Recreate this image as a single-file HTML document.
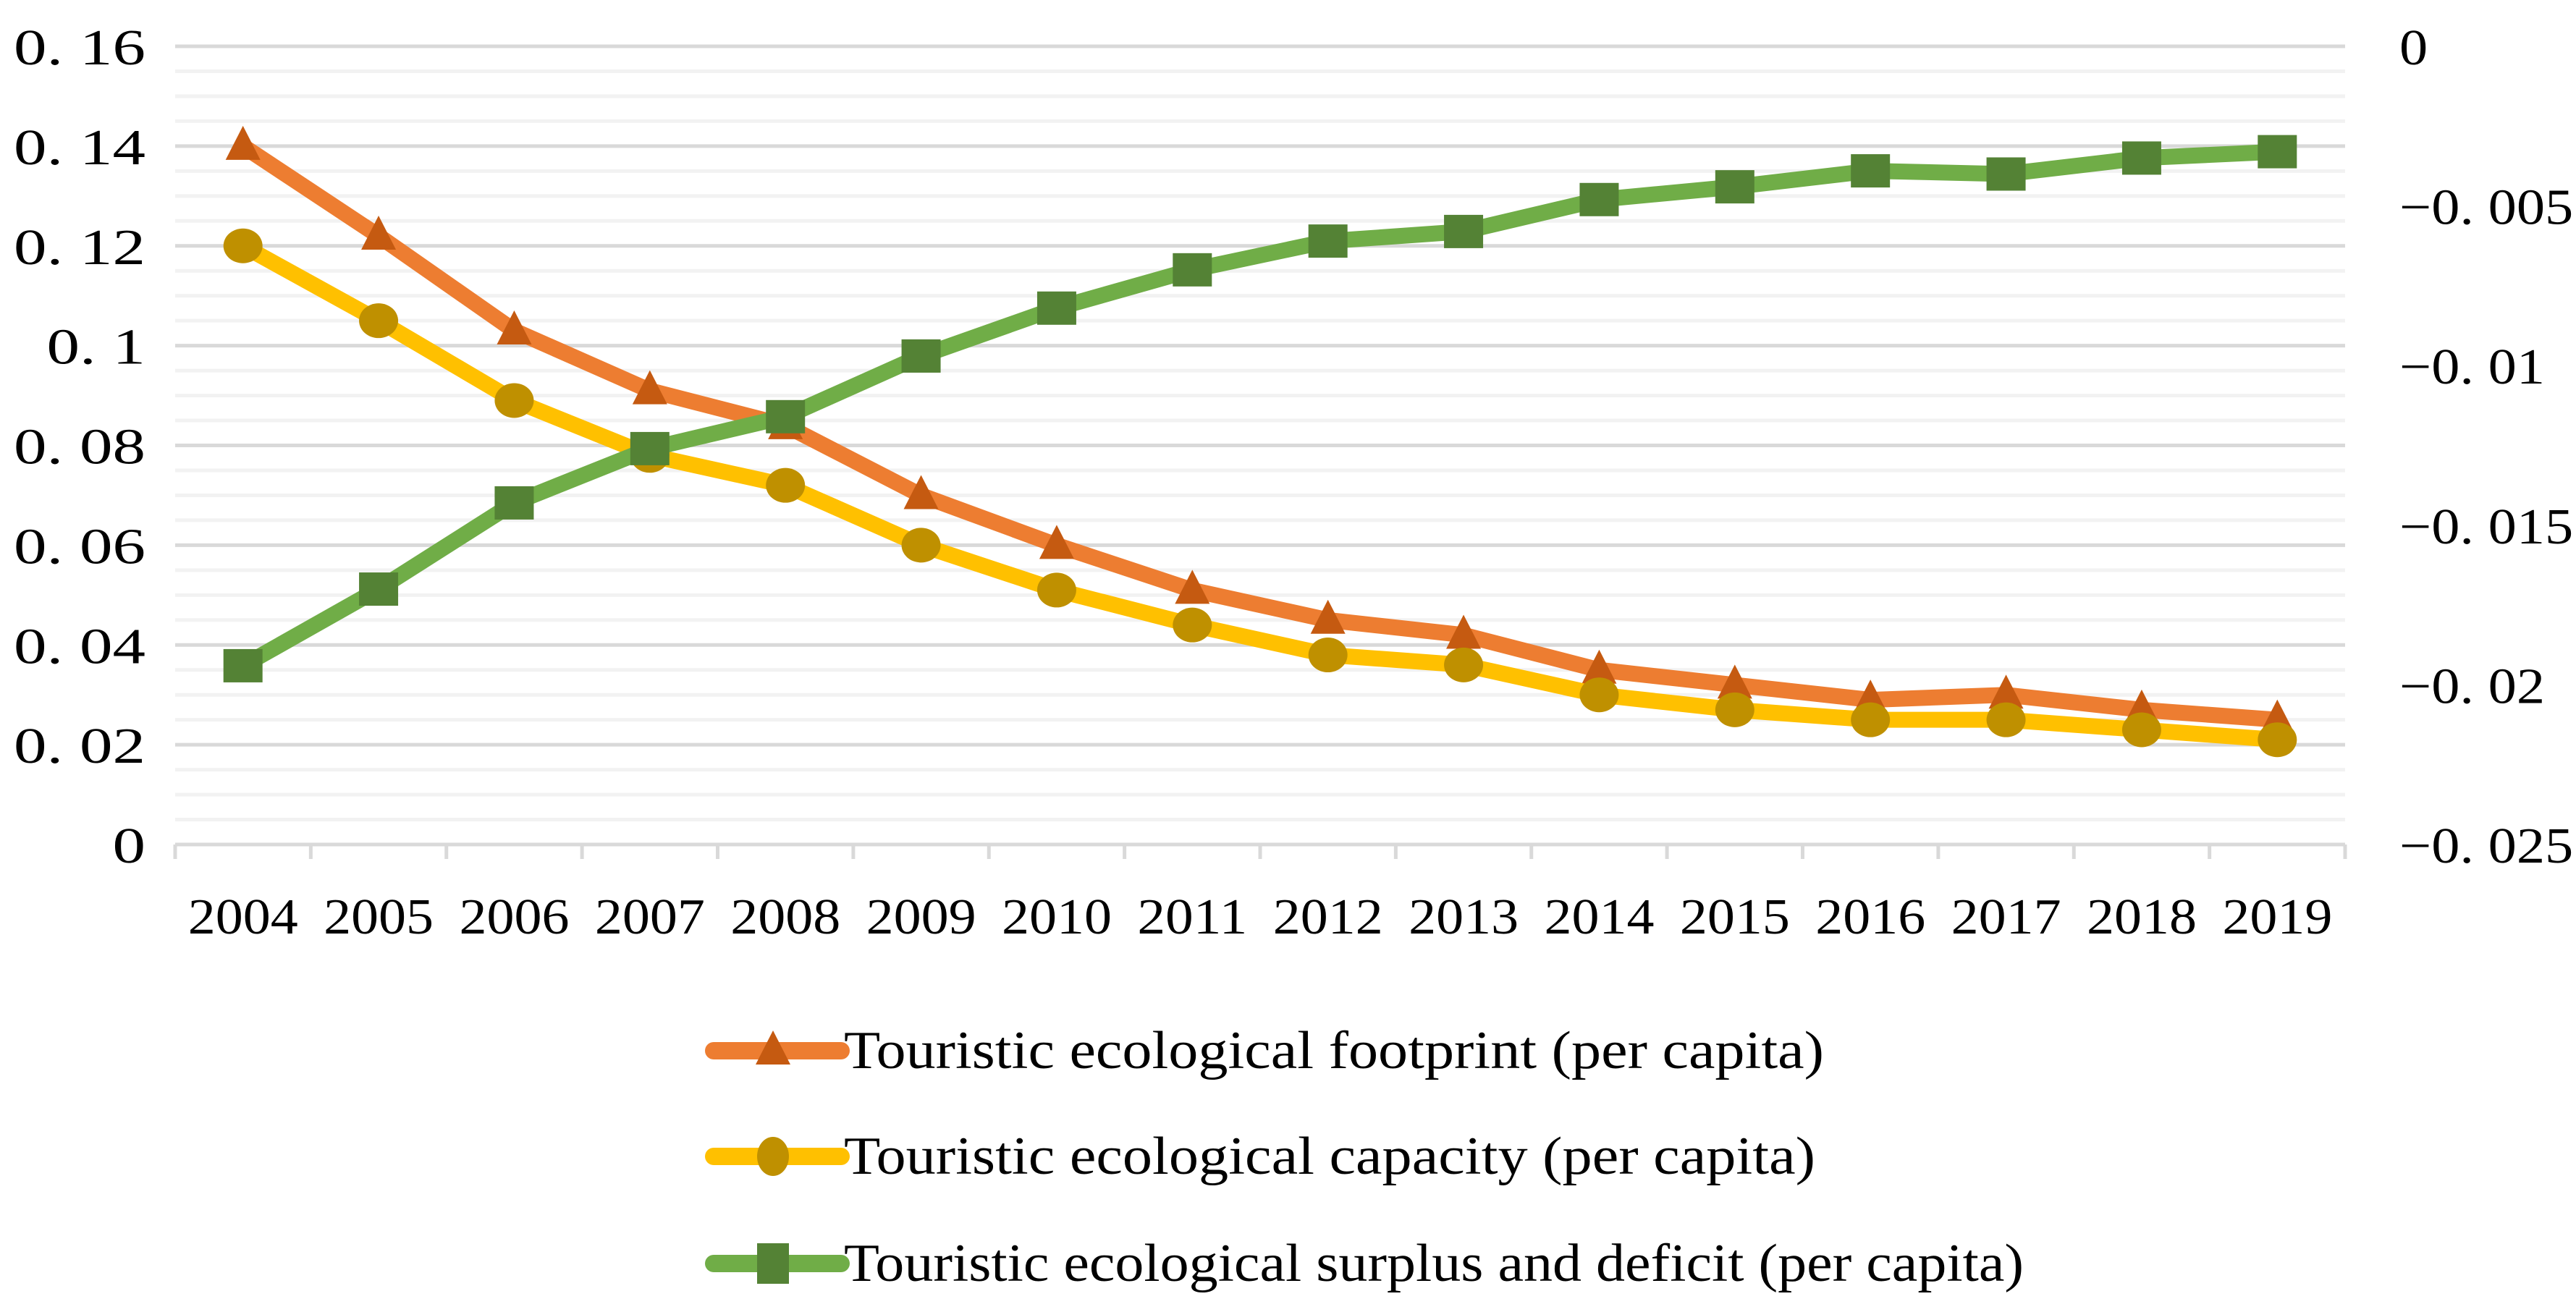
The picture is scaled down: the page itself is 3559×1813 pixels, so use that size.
<!DOCTYPE html>
<html><head><meta charset="utf-8"><style>
html,body{margin:0;padding:0;background:#fff;}
svg{display:block;}
text{font-family:"Liberation Serif",serif;fill:#000;}
</style></head><body>
<svg id="chart" width="3559" height="1813" viewBox="0 0 3559 1813" xmlns="http://www.w3.org/2000/svg">
<g id="grid"></g>
<g id="axes"></g>
<g id="series"></g>
<g id="legend"></g>
</svg>
<script>
const years = ["2004","2005","2006","2007","2008","2009","2010","2011","2012","2013","2014","2015","2016","2017","2018","2019"];
const footprint = [0.140,0.122,0.103,0.091,0.084,0.070,0.060,0.051,0.045,0.042,0.035,0.032,0.029,0.030,0.027,0.025];
const capacity = [0.120,0.105,0.089,0.078,0.072,0.060,0.051,0.044,0.038,0.036,0.030,0.027,0.025,0.025,0.023,0.021];
const surplus = [-0.0194,-0.0170,-0.0143,-0.0126,-0.0116,-0.0097,-0.0082,-0.0070,-0.0061,-0.0058,-0.0048,-0.0044,-0.0039,-0.0040,-0.0035,-0.0033];
const leftTicks = ["0","0. 02","0. 04","0. 06","0. 08","0. 1","0. 12","0. 14","0. 16"];
const rightTicks = ["0","\u22120. 005","\u22120. 01","\u22120. 015","\u22120. 02","\u22120. 025"];
const legendLabels = ["Touristic ecological footprint (per capita)","Touristic ecological capacity (per capita)","Touristic ecological surplus and deficit (per capita)"];

const NS="http://www.w3.org/2000/svg";
const X0=242, X1=3240, Y0=1167, Y1=64;
const bw=(X1-X0)/years.length;
const xs=i=>X0+bw*(i+0.5);
const yL=v=>Y0-(v/0.16)*(Y0-Y1);
const yR=v=>Y1+(-v/0.025)*(Y0-Y1);
function mk(tag,attrs,parent){const e=document.createElementNS(NS,tag);for(const k in attrs)e.setAttribute(k,attrs[k]);parent.appendChild(e);return e;}
function widen(t,k){const w=t.getComputedTextLength();if(w>0){t.setAttribute('textLength',w*k);t.setAttribute('lengthAdjust','spacingAndGlyphs');}}
const grid=document.getElementById('grid'),axes=document.getElementById('axes'),series=document.getElementById('series'),legend=document.getElementById('legend');

for(let k=1;k<32;k++){ if(k%4===0) continue;
  const y=Y0-k*(Y0-Y1)/32;
  const l=mk('line',{x1:X0,x2:X1,y1:y,y2:y,stroke:'#f2f2f2','stroke-width':5},grid);
  
  
}
for(let k=1;k<=8;k++){
  const y=Y0-k*(Y0-Y1)/8;
  const l=mk('line',{x1:X0,x2:X1,y1:y,y2:y,stroke:'#d9d9d9','stroke-width':5},grid);
  
  
}
const ax=mk('line',{x1:X0,x2:X1,y1:Y0,y2:Y0,stroke:'#d9d9d9','stroke-width':5},axes);


for(let i=0;i<=years.length;i++){
  const x=X0+i*bw;
  const t=mk('line',{x1:x,x2:x,y1:Y0,y2:Y0+20,stroke:'#d9d9d9','stroke-width':5},axes);
  
  
}
years.forEach((yv,i)=>{
  const t=mk('text',{x:xs(i),y:1290,'text-anchor':'middle','font-size':70,textLength:152,lengthAdjust:'spacingAndGlyphs'},axes);
  t.textContent=yv;
  
  
});
leftTicks.forEach((s,i)=>{
  const y=Y0-i*(Y0-Y1)/8;
  const t=mk('text',{x:201,y:y+25,'text-anchor':'end','font-size':70},axes);
  t.textContent=s;
  
  
  widen(t,1.3);
});
rightTicks.forEach((s,i)=>{
  const y=Y1+i*(Y0-Y1)/5;
  const t=mk('text',{x:3315,y:y+25,'text-anchor':'start','font-size':70},axes);
  t.textContent=s;
  
  
  widen(t,1.12);
});

function tri(cx,cy,g,fill){return mk('polygon',{points:`${cx},${cy-28} ${cx-24},${cy+19} ${cx+24},${cy+19}`,fill:fill},g);}
function drawSeries(vals,yf,line,mcol,shape,name){
  const g=mk('g',{},series);
  
  
  const pts=vals.map((v,i)=>xs(i)+','+yf(v)).join(' ');
  const pl=mk('polyline',{points:pts,fill:'none',stroke:line,'stroke-width':22,'stroke-linejoin':'round'},g);
  
  
  vals.forEach((v,i)=>{
    const cx=xs(i),cy=yf(v);let m;
    if(shape==='tri') m=tri(cx,cy,g,mcol);
    else if(shape==='circ') m=mk('ellipse',{cx:cx,cy:cy,rx:27,ry:24,fill:mcol},g);
    else m=mk('rect',{x:cx-27,y:cy-23,width:54,height:46,fill:mcol},g);
    
    
  });
}
drawSeries(footprint,yL,'#ED7D31','#C55A11','tri','footprint-series');
drawSeries(capacity,yL,'#FFC000','#BF9000','circ','capacity-series');
drawSeries(surplus,yR,'#70AD47','#548235','sq','surplus-series');

const lcol=[['#ED7D31','#C55A11','tri'],['#FFC000','#BF9000','circ'],['#70AD47','#548235','sq']];
const ly=[1452,1598,1746], lw=[1354,1342,1630];
legendLabels.forEach((s,i)=>{
  const g=mk('g',{},legend);
  
  
  mk('line',{x1:986,x2:1162,y1:ly[i],y2:ly[i],stroke:lcol[i][0],'stroke-width':24,'stroke-linecap':'round'},g);
  const cx=1068,cy=ly[i];
  if(lcol[i][2]==='tri') tri(cx,cy,g,lcol[i][1]);
  else if(lcol[i][2]==='circ') mk('ellipse',{cx:cx,cy:cy,rx:22,ry:27,fill:lcol[i][1]},g);
  else mk('rect',{x:cx-22,y:cy-28,width:44,height:56,fill:lcol[i][1]},g);
  const t=mk('text',{x:1166,y:ly[i]+24,'font-size':74,textLength:lw[i],lengthAdjust:'spacingAndGlyphs'},g);
  t.textContent=s;
});
</script>
</body></html>
